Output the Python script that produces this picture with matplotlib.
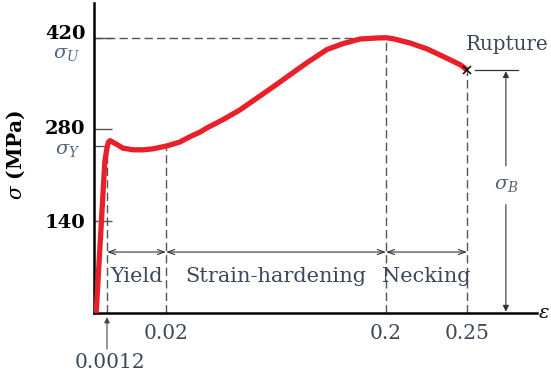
import matplotlib.pyplot as plt
import matplotlib.transforms as mtransforms
import numpy as np

# stress-strain curve (strain, stress in MPa)
strain = [0.0002, 0.0010, 0.0012, 0.0017, 0.0022, 0.0044, 0.0063, 0.0095, 0.0127,
          0.0159, 0.0208, 0.0315, 0.0396, 0.0478, 0.0536, 0.0666, 0.0806, 0.0945,
          0.1076, 0.1215, 0.1354, 0.1517, 0.1648, 0.1787, 0.1926, 0.2,
          0.2043, 0.2148, 0.2253, 0.2352, 0.2457, 0.25]
stress = [0, 231, 252, 261, 263, 257, 251.5, 249, 249,
          250.5, 255, 261, 269, 276, 282.5, 295, 310, 328,
          345, 363.5, 382, 402, 411, 418, 419.6, 420,
          418.5, 412, 403, 391.5, 379, 371]

ytick_vals = [140, 280, 420]
xtick_vals = [0.02, 0.2, 0.25]
xtick_labels = ['0.02', '0.2', '0.25']

eps_y = 0.0012
eps_u = 0.2
eps_r = 0.25
sigma_y = 255
sigma_u = 420
sigma_b = 371

zone_edges = [0.0012, 0.02, 0.2, 0.25]
zone_names = ['Yield', 'Strain-hardening', 'Necking']

# the strain axis is schematic: piecewise linear between the marked values
KNOT_STRAIN = [-1.0, 0.0, 0.0012, 0.02, 0.2, 0.25, 2.0]
KNOT_POS = [-10833.0, 0.0, 13.0, 72.0, 292.0, 373.0, 3208.0]


def fwd(x):
    return np.interp(x, KNOT_STRAIN, KNOT_POS)


def inv(p):
    return np.interp(p, KNOT_POS, KNOT_STRAIN)


TXT = '#3c4858'
SIG = '#56657a'
DASH = '#555555'
RED = '#e8202a'

plt.rcParams['font.family'] = ['DejaVu Serif']
plt.rcParams['mathtext.fontset'] = 'dejavuserif'

fig = plt.figure(figsize=(5.51, 3.79), dpi=100)
ax = fig.add_axes([94 / 551, 1 - 313 / 379, 443 / 551, 310 / 379])
ax.set_xscale('function', functions=(fwd, inv))
ax.set_xlim(0, inv(443))
ax.set_ylim(0, 473)

for s in ['top', 'right']:
    ax.spines[s].set_visible(False)
for s in ['left', 'bottom']:
    ax.spines[s].set_linewidth(1.8)

dash = dict(color=DASH, lw=1, linestyle=(0, (6, 3)), zorder=1)
ax.plot([0, eps_u], [sigma_u, sigma_u], **dash)
ax.plot([eps_u, eps_u], [0, sigma_u], **dash)
ax.plot([eps_r, eps_r], [0, sigma_b], **dash)
ax.plot([zone_edges[1], zone_edges[1]], [0, 253], **dash)
ax.plot([eps_y, eps_y], [0, 250], **dash)

ax.plot(strain, stress, color=RED, lw=3.8, solid_capstyle='butt',
        solid_joinstyle='round', zorder=3)
ax.plot([eps_r], [sigma_b], marker='x', color='black', ms=6, mew=1.1, zorder=4)

# yield tick
ax.plot([0, eps_y], [sigma_y, sigma_y], color=DASH, lw=1)

ax.set_yticks(ytick_vals)
ax.set_yticklabels([str(v) for v in ytick_vals], fontweight='bold')
ax.tick_params(axis='y', direction='in', length=13, width=1, color=DASH,
               labelsize=14, pad=6)
# nudge the upper labels up a little, as in the original drawing
for lbl, dy in zip(ax.get_yticklabels(), [0, 1.5, 4]):
    lbl.set_transform(lbl.get_transform() +
                      mtransforms.ScaledTranslation(0, dy / 72, fig.dpi_scale_trans))

ax.set_xticks(xtick_vals)
ax.set_xticklabels(xtick_labels)
ax.xaxis.set_minor_locator(plt.NullLocator())
ax.tick_params(axis='x', length=0, labelsize=14.5, labelcolor=TXT, pad=8)

ax.set_ylabel(r'$\sigma$ (MPa)', fontsize=14.5, fontweight='bold')
ax.yaxis.set_label_coords(-0.152, 0.51)

ax.annotate(r'$\sigma_U$', xy=(0, sigma_u), xycoords=('axes fraction', 'data'),
            xytext=(-10, -12), textcoords='offset points', ha='right', va='center',
            fontsize=14, color=SIG)
ax.annotate(r'$\sigma_Y$', xy=(0, sigma_y), xycoords=('axes fraction', 'data'),
            xytext=(-10, -3), textcoords='offset points', ha='right', va='center',
            fontsize=14, color=SIG)

# region arrows and names
for a, b, name in zip(zone_edges[:-1], zone_edges[1:], zone_names):
    ax.annotate('', xy=(a, 93), xytext=(b, 93),
                arrowprops=dict(arrowstyle='<->,head_length=0.5,head_width=0.18',
                                color='#333333', lw=0.8, shrinkA=0, shrinkB=0))
    mid = inv((fwd(a) + fwd(b)) / 2)
    ax.text(mid, 55, name, ha='center', va='center', fontsize=15, color=TXT)

ax.annotate('0.0012', xy=(eps_y, 0), xytext=(2, -36), textcoords='offset points',
            ha='center', va='center', fontsize=14.5, color=TXT, annotation_clip=False)
ax.annotate('', xy=(eps_y, 0), xytext=(0, -26), textcoords='offset points',
            annotation_clip=False,
            arrowprops=dict(arrowstyle='-|>', color='#444444', lw=0.8,
                            mutation_scale=8, shrinkA=0, shrinkB=3))

# rupture annotation
ax.text(eps_r - 0.0008, 409, 'Rupture', ha='left', va='center', fontsize=14.3,
        color=TXT, clip_on=False)
ax.plot([0.2549, 0.2815], [sigma_b, sigma_b], color='#333333', lw=0.9)
ax.text(0.274, 195, r'$\sigma_B$', ha='center', va='center', fontsize=14, color=SIG)
for end in [sigma_b, 0]:
    ax.annotate('', xy=(0.274, end), xytext=(0.274, 195),
                arrowprops=dict(arrowstyle='-|>', color='#333333', lw=0.8,
                                mutation_scale=9, shrinkA=14, shrinkB=1))

ax.annotate(r'$\epsilon$', xy=(1, 0), xycoords='axes fraction', xytext=(1, 0),
            textcoords='offset points', ha='left', va='center', fontsize=14,
            fontweight='bold', annotation_clip=False)

fig.savefig('out.png', dpi=100)
